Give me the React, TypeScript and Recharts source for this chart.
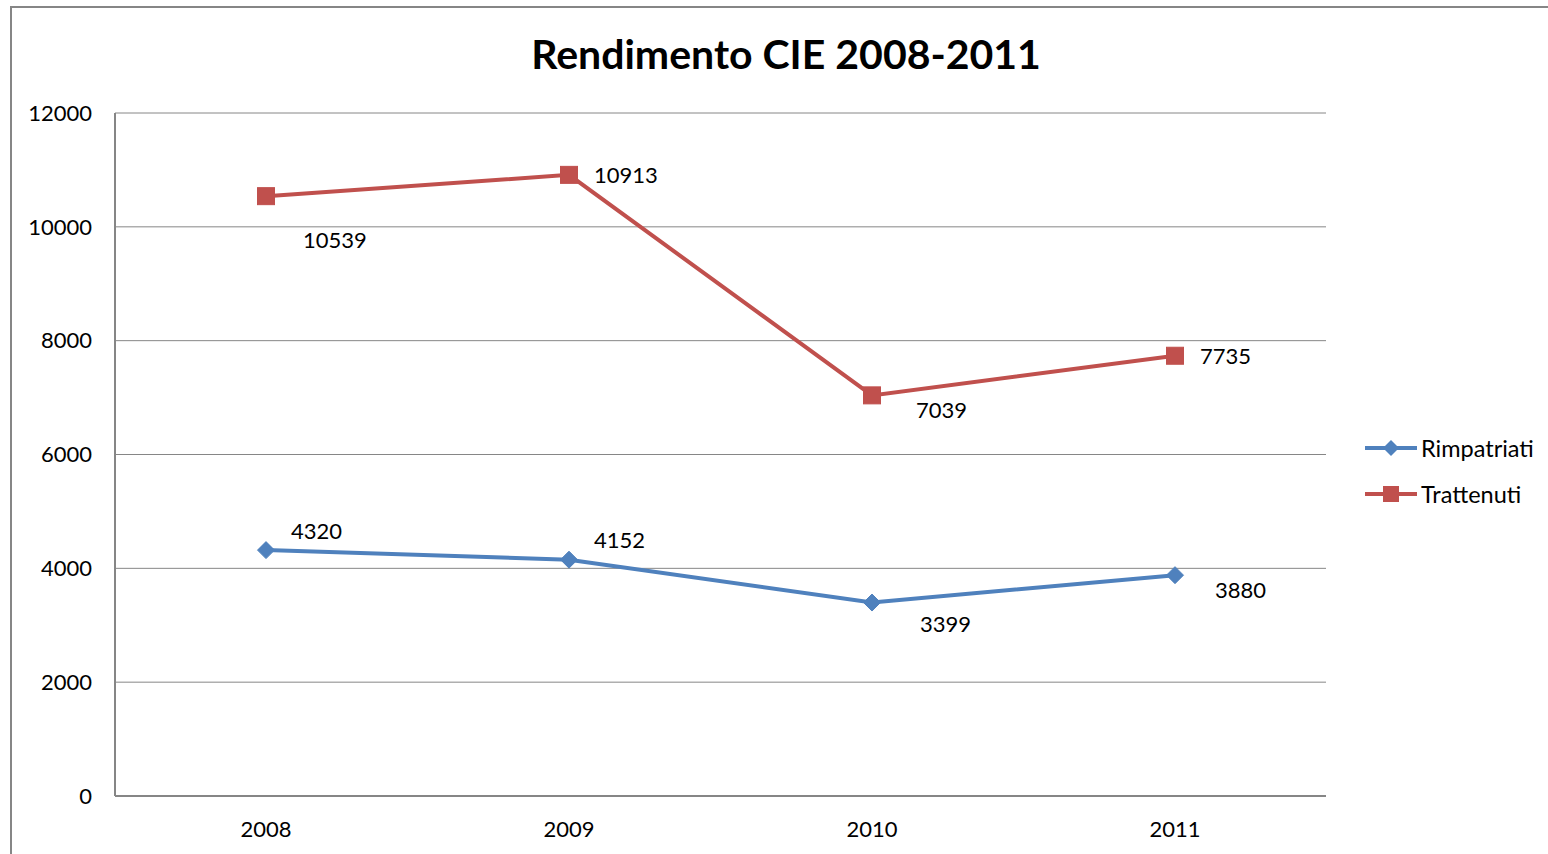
import React from 'react';
import { LineChart, Line, XAxis, YAxis, CartesianGrid, LabelList } from 'recharts';

const YEARS = ['2008', '2009', '2010', '2011'];
const RIMPATRIATI = [4320, 4152, 3399, 3880];
const TRATTENUTI = [10539, 10913, 7039, 7735];
const Y_TICKS = [0, 2000, 4000, 6000, 8000, 10000, 12000];

const BLUE = '#4F81BD';
const RED = '#C0504D';
const GRID = '#868686';
const FONT = 'Lato, "Open Sans", sans-serif';

// manual label placement (Excel-style), [dx from point, dy from point]
const RIM_LABEL_OFFSETS = [[25, -20], [25, -20], [48, 21], [40, 14]];
const TRA_LABEL_OFFSETS = [[37, 43], [25, 0], [44, 14], [25, 0]];

const data = YEARS.map((year, i) => ({
  year,
  rimpatriati: RIMPATRIATI[i],
  trattenuti: TRATTENUTI[i],
}));

const Diamond = (props: any) => {
  const { cx, cy } = props;
  if (cx == null || cy == null) return null;
  const r = 8.5;
  return (
    <polygon
      points={`${cx},${cy - r} ${cx + r},${cy} ${cx},${cy + r} ${cx - r},${cy}`}
      fill={BLUE}
      stroke={BLUE}
      strokeWidth={1}
    />
  );
};

const Square = (props: any) => {
  const { cx, cy } = props;
  if (cx == null || cy == null) return null;
  const s = 8.5;
  return <rect x={cx - s} y={cy - s} width={s * 2} height={s * 2} fill={RED} stroke={RED} strokeWidth={1} />;
};

const makeLabel = (offsets: number[][]) => (props: any) => {
  const { x, y, value, index } = props;
  const [dx, dy] = offsets[index] || [25, 0];
  return (
    <text
      x={Number(x) + dx}
      y={Number(y) + dy}
      textAnchor="start"
      dominantBaseline="central"
      fontFamily={FONT}
      fontSize={22}
      fill="#000"
    >
      {value}
    </text>
  );
};

const LEGEND = [
  { name: 'Rimpatriati', color: BLUE, shape: 'diamond' },
  { name: 'Trattenuti', color: RED, shape: 'square' },
];

const App: React.FC = () => {
  return (
    <div
      style={{
        position: 'fixed',
        left: 0,
        top: 0,
        width: 1548,
        height: 854,
        overflow: 'hidden',
        background: '#fff',
        fontFamily: FONT,
      }}
    >
      <div
        style={{
          position: 'absolute',
          left: 10,
          top: 6,
          width: 1600,
          height: 900,
          border: `2px solid ${GRID}`,
        }}
      />
      <div
        style={{
          position: 'absolute',
          left: 0,
          width: 1572,
          top: 29,
          textAlign: 'center',
          fontSize: 41,
          fontWeight: 700,
          color: '#000',
          lineHeight: '50px',
        }}
      >
        Rendimento CIE 2008-2011
      </div>
      <div style={{ position: 'absolute', left: 0, top: 0 }}>
        <LineChart width={1548} height={854} data={data} margin={{ top: 113, right: 222, bottom: 28, left: 0 }}>
          <CartesianGrid horizontal vertical={false} stroke={GRID} strokeWidth={1} />
          <XAxis
            dataKey="year"
            height={30}
            padding={{ left: 151, right: 151 }}
            axisLine={{ stroke: GRID, strokeWidth: 2 }}
            tickLine={false}
            tickMargin={19}
            tick={{ fontFamily: FONT, fontSize: 22, fill: '#000' }}
          />
          <YAxis
            width={115}
            domain={[0, 12000]}
            ticks={Y_TICKS}
            interval={0}
            axisLine={{ stroke: GRID, strokeWidth: 2 }}
            tickLine={false}
            tickMargin={17}
            tick={{ fontFamily: FONT, fontSize: 22, fill: '#000' }}
          />
          <Line
            type="linear"
            dataKey="rimpatriati"
            stroke={BLUE}
            strokeWidth={4}
            dot={<Diamond />}
            activeDot={false}
            isAnimationActive={false}
          >
            <LabelList dataKey="rimpatriati" content={makeLabel(RIM_LABEL_OFFSETS)} />
          </Line>
          <Line
            type="linear"
            dataKey="trattenuti"
            stroke={RED}
            strokeWidth={4}
            dot={<Square />}
            activeDot={false}
            isAnimationActive={false}
          >
            <LabelList dataKey="trattenuti" content={makeLabel(TRA_LABEL_OFFSETS)} />
          </Line>
        </LineChart>
      </div>
      <div style={{ position: 'absolute', left: 1365, top: 425 }}>
        {LEGEND.map((item) => (
          <div key={item.name} style={{ display: 'flex', alignItems: 'center', height: 46 }}>
            <svg width={54} height={20}>
              <line x1={0} y1={10} x2={52} y2={10} stroke={item.color} strokeWidth={4} />
              {item.shape === 'diamond' ? (
                <polygon points="26,2 34,10 26,18 18,10" fill={item.color} />
              ) : (
                <rect x={18} y={2} width={16} height={16} fill={item.color} />
              )}
            </svg>
            <span style={{ fontSize: 23.5, color: '#000', marginLeft: 2 }}>{item.name}</span>
          </div>
        ))}
      </div>
    </div>
  );
};

export default App;
